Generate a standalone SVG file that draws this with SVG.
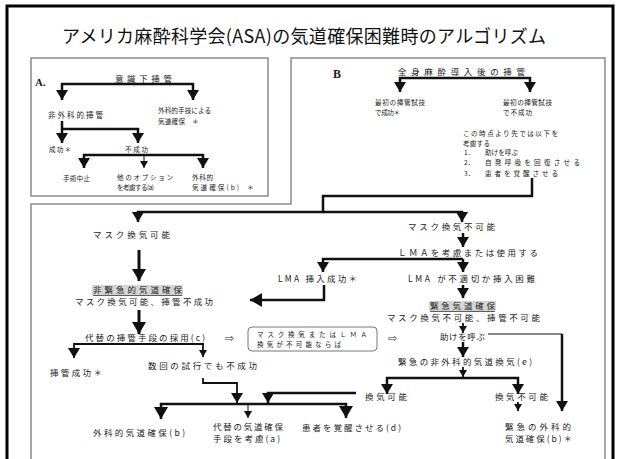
<svg xmlns="http://www.w3.org/2000/svg" width="620" height="459" viewBox="0 0 620 459">
<defs>
<style>
.t{font-family:"Noto Sans CJK JP","Noto Sans",sans-serif;font-size:8.5px;fill:#222;}
.s{font-size:6.6px;}
.lbl{font-family:"Liberation Serif",serif;font-weight:bold;fill:#222;}
.box{fill:none;stroke:#8a8a8a;stroke-width:1.5;}
.c{fill:none;stroke:#111;stroke-width:2.5;}
.cx{fill:none;stroke:#111;stroke-width:3;}
.cm{fill:none;stroke:#111;stroke-width:1.8;}
.ct{fill:none;stroke:#111;stroke-width:1;}
.hl{fill:#d4d4d4;}
.ul{stroke:#333;stroke-width:0.8;}
.sym{font-family:"DejaVu Sans",sans-serif;font-size:11px;fill:#333;}
</style>
<marker id="ab" markerUnits="userSpaceOnUse" markerWidth="10" markerHeight="12" refX="10" refY="6" orient="auto"><path d="M0,0 L10,6 L0,12 z" fill="#111"/></marker>
<marker id="ax" markerUnits="userSpaceOnUse" markerWidth="12" markerHeight="14" refX="12" refY="7" orient="auto"><path d="M0,0 L12,7 L0,14 z" fill="#111"/></marker>
<marker id="as" markerUnits="userSpaceOnUse" markerWidth="7" markerHeight="8" refX="7" refY="4" orient="auto"><path d="M0,0 L7,4 L0,8 z" fill="#111"/></marker>
</defs>
<rect x="0" y="0" width="620" height="459" fill="#fff"/>
<g id="frame">
<rect x="7" y="6" width="606" height="470" fill="none" stroke="#000" stroke-width="3"/>
<rect class="box" x="31" y="58" width="237" height="138"/>
<path class="box" d="M31,470 V204 H291 V58 H605 V470"/>
</g>
<g id="title"><text x="62" y="43" textLength="484" style="font-family:'Noto Sans CJK JP','Noto Sans',sans-serif;font-size:18px;fill:#111">アメリカ麻酔科学会(ASA)の気道確保困難時のアルゴリズム</text></g>

<g id="connectors">
<path class="c" d="M128,84 H62 V100" marker-end="url(#ab)"/>
<path class="c" d="M128,84 H193 V100" marker-end="url(#ab)"/>
<path class="c" d="M62,121 V143" marker-end="url(#ab)"/>
<path class="c" d="M62,129 H138 V143" marker-end="url(#ab)"/>
<path class="ct" d="M144,154 V168" marker-end="url(#as)"/>
<path class="c" d="M144,155 H84 V168" marker-end="url(#ab)"/>
<path class="c" d="M144,155 H203 V168" marker-end="url(#ab)"/>
<path class="c" d="M465,78 H400 V92" marker-end="url(#ab)"/>
<path class="c" d="M465,78 H530 V92" marker-end="url(#ab)"/>
<path class="c" d="M532,178 V196 H323 V212 H138 V222" marker-end="url(#ab)"/>
<path class="c" d="M323,212 H462 V222" marker-end="url(#ab)"/>
<path class="cx" d="M139,250 V281" marker-end="url(#ax)"/>
<path class="cx" d="M139,310 V334" marker-end="url(#ax)"/>
<path class="cm" d="M139,344 H74 V358" marker-end="url(#ab)"/>
<path class="cm" d="M139,344 H203 V357" marker-end="url(#as)"/>
<path class="cm" d="M203,378 V383 H237 V403" marker-end="url(#ab)"/>
<path class="c" d="M356,393 H268 V403" marker-end="url(#ab)"/>
<path class="c" d="M248,404 H161 V419" marker-end="url(#ax)"/>
<path class="c" d="M248,404 H346 V418" marker-end="url(#ax)"/>
<path class="ct" d="M248,404 V418" marker-end="url(#as)"/>
<path class="c" d="M463,233 V247" marker-end="url(#ab)"/>
<path class="c" d="M463,259 H323 V272" marker-end="url(#ab)"/>
<path class="c" d="M463,259 V272" marker-end="url(#ab)"/>
<path class="c" d="M324,285 V300 H250" marker-end="url(#ax)"/>
<path class="c" d="M463,285 V298" marker-end="url(#ab)"/>
<path class="cm" d="M463,323 V333" marker-end="url(#as)"/>
<path class="ct" d="M488,334 H562"/>
<path class="c" d="M562,334 V411" marker-end="url(#ab)"/>
<path class="c" d="M463,342 V357" marker-end="url(#ab)"/>
<path class="cm" d="M463,367 V377" marker-end="url(#as)"/>
<path class="c" d="M463,378 H387 V394" marker-end="url(#ab)"/>
<path class="c" d="M463,378 H518 V394" marker-end="url(#ab)"/>
<path class="cm" d="M518,402 V411" marker-end="url(#as)"/>
</g>

<g id="nA-label"><text class="lbl" x="35" y="86" font-size="11">A.</text></g>
<g id="nA-root"><text class="t" x="115" y="82" textLength="57">意識下挿管</text></g>
<g id="nA-nonsurgical"><text class="t" x="48" y="118" textLength="55" style="font-size:7.5px">非外科的挿管</text></g>
<g id="nA-surgical"><text class="t s" x="158" y="113" textLength="53">外科的手技による</text><text class="t s" x="158" y="124" textLength="27">気道確保</text><text class="t s" x="192" y="124">＊</text></g>
<g id="nA-success"><text class="t s" x="49" y="152" textLength="22">成功＊</text></g>
<g id="nA-fail"><text class="t s" x="125" y="152" textLength="23">不成功</text></g>
<g id="nA-cancel"><text class="t s" x="63" y="181" textLength="27">手術中止</text></g>
<g id="nA-other"><text class="t s" x="117" y="180" textLength="56">他のオプション</text><text class="t s" x="117" y="190" textLength="37">を考慮する(a)</text></g>
<g id="nA-surgical2"><text class="t s" x="192" y="180" textLength="21">外科的</text><text class="t s" x="192" y="190" textLength="47">気道確保(b)</text><text class="t s" x="247" y="190">＊</text></g>

<g id="nB-label"><text class="lbl" x="333" y="78" font-size="12">B</text></g>
<g id="nB-root"><text class="t" x="398" y="75" textLength="127" font-size="9">全身麻酔導入後の挿管</text></g>
<g id="nB-success"><text class="t s" x="375" y="105" textLength="50">最初の挿管試技</text><text class="t s" x="375" y="115" textLength="25">で成功＊</text></g>
<g id="nB-fail"><text class="t s" x="503" y="105" textLength="49">最初の挿管試技</text><text class="t s" x="503" y="115" textLength="29">で不成功</text></g>
<g id="nB-consider"><text class="t s" x="463" y="136" textLength="95">この時点より先では以下を</text><text class="t s" x="463" y="145.5" textLength="27">考慮する</text>
<text class="t s" x="464" y="155">1．</text><text class="t s" x="485" y="155" textLength="33">助けを呼ぶ</text>
<text class="t s" x="464" y="165">2．</text><text class="t s" x="485" y="165" textLength="95">自発呼吸を回復させる</text>
<text class="t s" x="464" y="175.5">3．</text><text class="t s" x="485" y="175.5" textLength="73">患者を覚醒させる</text></g>

<g id="n-mask-ok"><text class="t" x="93" y="238" textLength="77">マスク換気可能</text></g>
<g id="n-nonemergency"><rect class="hl" x="92" y="285" width="91" height="10"/><line class="ul" x1="93" y1="295.5" x2="182" y2="295.5"/><text class="t" x="93" y="293" textLength="89">非緊急的気道確保</text><text class="t" x="75" y="304.5" textLength="138">マスク換気可能、挿管不成功</text></g>
<g id="n-alt-intubation"><text class="t" x="85" y="341" textLength="120">代替の挿管手段の採用(c)</text></g>
<g id="n-intub-success"><text class="t" x="50" y="376" textLength="52">挿管成功＊</text></g>
<g id="n-repeated-fail"><text class="t" x="148" y="369" textLength="109">数回の試行でも不成功</text></g>
<g id="n-condition"><text class="sym" x="225" y="342">⇨</text><rect x="248" y="327" width="129" height="24" rx="4" fill="none" stroke="#777" stroke-width="1"/><text class="t s" x="257" y="337" textLength="110">マスク換気またはＬＭＡ</text><text class="t s" x="257" y="347" textLength="84">換気が不可能ならば</text><text class="sym" x="388" y="342">⇨</text></g>
<g id="n-surgical-b"><text class="t" x="93" y="436" textLength="92">外科的気道確保(b)</text></g>
<g id="n-alt-airway"><text class="t" x="213" y="430" textLength="70">代替の気道確保</text><text class="t" x="213" y="441.5" textLength="67">手段を考慮(a)</text></g>
<g id="n-awaken"><text class="t" x="302" y="431" textLength="99">患者を覚醒させる(d)</text></g>
<g id="n-mask-ng"><text class="t" x="408" y="230" textLength="87">マスク換気不可能</text></g>
<g id="n-lma-consider"><text class="t" x="398" y="256" textLength="140">ＬＭＡを考慮または使用する</text></g>
<g id="n-lma-success"><text class="t" x="278" y="282" textLength="79">LMA 挿入成功＊</text></g>
<g id="n-lma-fail"><text class="t" x="408" y="282" textLength="127">LMA が不適切か挿入困難</text></g>
<g id="n-emergency"><rect class="hl" x="429" y="301" width="67" height="10"/><line class="ul" x1="430" y1="311.5" x2="495" y2="311.5"/><text class="t" x="430" y="309" textLength="65">緊急気道確保</text><text class="t" x="387" y="320.5" textLength="153">マスク換気不可能、挿管不可能</text></g>
<g id="n-call-help"><text class="t" x="440" y="340" textLength="45">助けを呼ぶ</text></g>
<g id="n-emerg-nonsurg"><text class="t" x="398" y="365" textLength="134">緊急の非外科的気道換気(e)</text></g>
<g id="n-vent-ok"><text class="t" x="365" y="400" textLength="42">換気可能</text></g>
<g id="n-vent-ng"><text class="t" x="495" y="400" textLength="53">換気不可能</text></g>
<g id="n-emerg-surg"><text class="t" x="505" y="430" textLength="66">緊急の外科的</text><text class="t" x="505" y="441.5" textLength="67">気道確保(b)＊</text></g>
</svg>
